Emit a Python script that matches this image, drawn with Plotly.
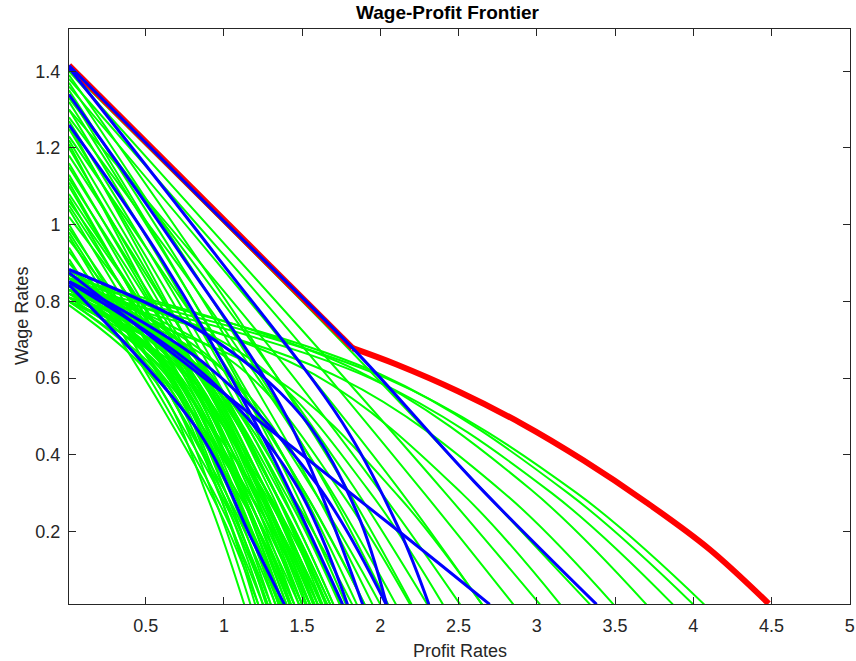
import plotly.graph_objects as go

# ---------------- data ----------------
# sample positions along each green curve, as a fraction of its end profit rate
frac = [0.0, 0.5, 0.8, 1.0]
r_start = 0.01
w_end = 0.01

# high-intercept green curves (almost straight)
high_w0 = [1.405, 1.40, 1.38, 1.36, 1.30, 1.39, 1.37, 1.35, 1.33, 1.32, 1.30, 1.28,
           1.27, 1.25, 1.23, 1.22, 1.20, 1.18, 1.16, 1.15, 1.13, 1.12, 1.10, 1.08,
           1.07, 1.05, 1.04, 1.02, 1.00, 0.99, 0.97, 0.96, 0.94, 0.93, 0.91, 0.90,
           1.34, 1.26, 1.21, 1.11, 1.06, 0.98]
high_w50 = [0.73, 0.72, 0.72, 0.72, 0.70, 0.75, 0.74, 0.73, 0.71, 0.72, 0.71, 0.70,
            0.70, 0.69, 0.67, 0.67, 0.66, 0.65, 0.64, 0.63, 0.62, 0.62, 0.61, 0.60,
            0.59, 0.58, 0.58, 0.57, 0.56, 0.55, 0.54, 0.54, 0.53, 0.53, 0.52, 0.52,
            0.74, 0.70, 0.67, 0.62, 0.59, 0.55]
high_w80 = [0.30, 0.30, 0.30, 0.31, 0.30, 0.33, 0.33, 0.32, 0.31, 0.32, 0.31, 0.31,
            0.31, 0.31, 0.30, 0.30, 0.30, 0.29, 0.29, 0.29, 0.28, 0.28, 0.28, 0.27,
            0.27, 0.27, 0.27, 0.27, 0.26, 0.26, 0.26, 0.26, 0.25, 0.25, 0.25, 0.25,
            0.33, 0.31, 0.30, 0.28, 0.27, 0.26]
high_rend = [3.34, 3.02, 2.85, 2.65, 2.51, 2.20, 2.05, 1.95, 2.30, 1.85, 1.75, 2.10,
             1.70, 1.65, 1.90, 1.60, 1.55, 1.68, 1.50, 1.62, 1.45, 1.58, 1.42, 1.55,
             1.38, 1.50, 1.35, 1.66, 1.30, 1.48, 1.28, 1.60, 1.25, 1.45, 1.22, 1.55,
             1.78, 1.52, 1.40, 1.36, 1.63, 1.33]

# low-intercept green curves that fall steeply
low_w0 = [0.79, 0.80, 0.80, 0.81, 0.81, 0.82, 0.82, 0.83, 0.83, 0.84, 0.84, 0.85,
          0.85, 0.86, 0.86, 0.87, 0.87, 0.88, 0.88, 0.84, 0.83, 0.82, 0.81, 0.80,
          0.86, 0.85, 0.83, 0.87]
low_w50 = [0.59, 0.60, 0.60, 0.61, 0.61, 0.62, 0.62, 0.62, 0.62, 0.63, 0.63, 0.64,
           0.64, 0.65, 0.65, 0.65, 0.65, 0.66, 0.66, 0.63, 0.62, 0.62, 0.61, 0.60,
           0.65, 0.64, 0.62, 0.65]
low_w80 = [0.28, 0.29, 0.29, 0.29, 0.29, 0.30, 0.30, 0.30, 0.30, 0.30, 0.30, 0.31,
           0.31, 0.31, 0.31, 0.31, 0.31, 0.32, 0.32, 0.30, 0.30, 0.30, 0.29, 0.29,
           0.31, 0.31, 0.30, 0.31]
low_rend = [1.13, 1.17, 1.22, 1.25, 1.28, 1.30, 1.33, 1.35, 1.38, 1.40, 1.43, 1.45,
            1.48, 1.50, 1.53, 1.55, 1.58, 1.60, 1.63, 1.66, 1.70, 1.74, 1.68, 1.57,
            1.37, 1.20, 1.27, 1.42]

# low-intercept green curves that reach far to the right
far_w0 = [0.84, 0.85, 0.83, 0.86, 0.82, 0.84, 0.81, 0.87, 0.85, 0.83, 0.86, 0.80]
far_w50 = [0.60, 0.61, 0.60, 0.62, 0.60, 0.61, 0.60, 0.64, 0.63, 0.62, 0.64, 0.60]
far_w80 = [0.30, 0.30, 0.30, 0.31, 0.30, 0.30, 0.29, 0.31, 0.30, 0.29, 0.30, 0.28]
far_rend = [4.07, 4.00, 3.87, 3.70, 3.49, 3.15, 2.65, 2.40, 2.19, 2.00, 1.90, 1.82]

# blue curves: profit rates and wage rates along each
blue_r = [[0.01, 0.90, 1.823, 2.60, 3.382],
          [0.01, 0.95, 1.757, 2.122, 2.31],
          [0.01, 0.73, 1.40, 1.887],
          [0.01, 0.585, 1.225, 1.759],
          [0.01, 0.84, 1.18, 1.387],
          [0.01, 0.90, 1.45, 1.79],
          [0.01, 1.00, 2.12, 2.699],
          [0.01, 0.90, 1.50, 1.85, 2.04],
          [0.01, 0.90, 1.60, 2.037]]
blue_w = [[1.415, 1.05, 0.678, 0.33, 0.01],
          [1.409, 0.92, 0.484, 0.204, 0.01],
          [1.339, 0.92, 0.50, 0.01],
          [1.26, 0.92, 0.465, 0.01],
          [0.843, 0.46, 0.178, 0.01],
          [0.85, 0.60, 0.33, 0.01],
          [0.875, 0.56, 0.20, 0.01],
          [0.883, 0.71, 0.50, 0.25, 0.01],
          [0.852, 0.63, 0.32, 0.01]]

# red frontier: straight part, then curved part from the kink
red_line_r = [0.01, 1.823]
red_line_w = [1.415, 0.678]
red_curve_r = [1.823, 2.10, 2.50, 2.90, 3.30, 3.70, 4.10, 4.482]
red_curve_w = [0.678, 0.636, 0.565, 0.482, 0.385, 0.276, 0.155, 0.012]

x_ticks = [0.5, 1, 1.5, 2, 2.5, 3, 3.5, 4, 4.5, 5]
x_ticktext = ["0.5", "1", "1.5", "2", "2.5", "3", "3.5", "4", "4.5", "5"]
y_ticks = [0.2, 0.4, 0.6, 0.8, 1.0, 1.2, 1.4]
y_ticktext = ["0.2", "0.4", "0.6", "0.8", "1", "1.2", "1.4"]

# ---------------- build ----------------
def family_xy(w0s, w50s, w80s, rends):
    xs, ys = [], []
    for w0, w50, w80, re in zip(w0s, w50s, w80s, rends):
        ws = [w0, w50, w80, w_end]
        for f, w in zip(frac, ws):
            xs.append(max(r_start, f * re))
            ys.append(w)
        xs.append(None)
        ys.append(None)
    return xs, ys

fig = go.Figure()
GREEN = "#00ff00"
BLUE = "#0000ff"
RED = "#ff0000"

for fam in [(high_w0, high_w50, high_w80, high_rend),
            (low_w0, low_w50, low_w80, low_rend),
            (far_w0, far_w50, far_w80, far_rend)]:
    gx, gy = family_xy(*fam)
    fig.add_trace(go.Scatter(x=gx, y=gy, mode="lines",
                             line=dict(color=GREEN, width=2, shape="spline", smoothing=1.0),
                             hoverinfo="skip", connectgaps=False))

fig.add_trace(go.Scatter(x=red_line_r, y=red_line_w, mode="lines",
                         line=dict(color=RED, width=6), hoverinfo="skip"))
fig.add_trace(go.Scatter(x=red_curve_r, y=red_curve_w, mode="lines",
                         line=dict(color=RED, width=6, shape="spline", smoothing=1.0),
                         hoverinfo="skip"))

bx, by = [], []
for rr, ww in zip(blue_r, blue_w):
    bx += rr + [None]
    by += ww + [None]
fig.add_trace(go.Scatter(x=bx, y=by, mode="lines",
                         line=dict(color=BLUE, width=3, shape="spline", smoothing=1.0),
                         hoverinfo="skip", connectgaps=False))

W, H = 856, 661
L, R, T, B = 69, 850, 29, 604
PW, PH = R - L, B - T

AX = "#262626"
FONT = "Liberation Sans, Arial, Helvetica, sans-serif"
FS = 18
fig.update_layout(
    width=W, height=H,
    margin=dict(l=L, r=W - R, t=T, b=H - B, autoexpand=False),
    plot_bgcolor="white", paper_bgcolor="white",
    showlegend=False,
    font=dict(family=FONT, size=FS, color=AX),
    title=dict(text="<b>Wage-Profit Frontier</b>", x=447.5 / W, xanchor="center",
               y=1 - 12 / H, yanchor="middle", yref="container",
               font=dict(family=FONT, size=19, color="#000000")),
)
fig.update_xaxes(range=[0.01, 5.002], tickvals=x_ticks, ticktext=x_ticktext,
                 ticks="inside", ticklen=7, tickcolor=AX, tickwidth=1,
                 showline=True, linecolor=AX, linewidth=1, mirror="ticks",
                 showgrid=False, zeroline=False, ticklabelstandoff=5, automargin=False,
                 tickfont=dict(size=FS, color=AX))
fig.update_yaxes(range=[0.011, 1.51], tickvals=y_ticks, ticktext=y_ticktext,
                 ticks="inside", ticklen=7, tickcolor=AX, tickwidth=1,
                 showline=True, linecolor=AX, linewidth=1, mirror="ticks",
                 showgrid=False, zeroline=False, ticklabelstandoff=4, automargin=False,
                 tickfont=dict(size=FS, color=AX))
fig.add_annotation(text="Profit Rates", xref="paper", yref="paper",
                   x=0.5, y=-(651 - 604) / PH, xanchor="center", yanchor="middle",
                   showarrow=False, font=dict(family=FONT, size=FS, color=AX))
fig.add_annotation(text="Wage Rates", xref="paper", yref="paper",
                   x=(22 - 69) / PW, y=(604 - 316) / PH, xanchor="center", yanchor="middle",
                   textangle=-90, showarrow=False, font=dict(family=FONT, size=FS, color=AX))

# remove the default page margin so the figure sits at the top-left corner
fig.write_html("out.html", config={"displayModeBar": False},
               post_script="document.body.style.margin='0';document.body.style.padding='0';")
